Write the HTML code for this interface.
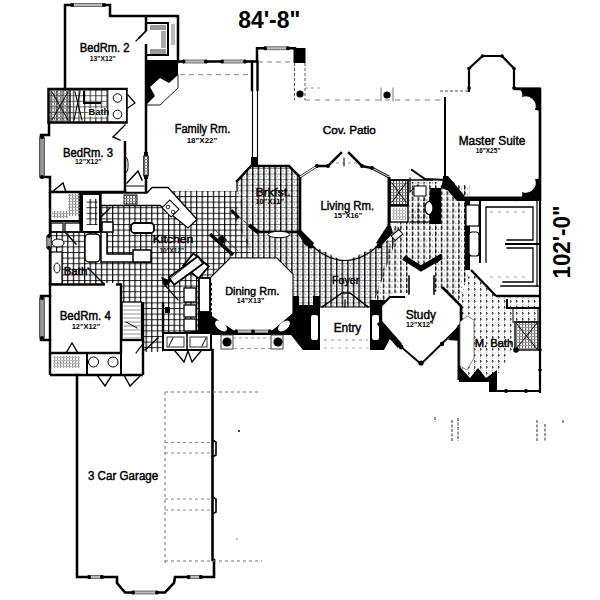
<!DOCTYPE html>
<html><head><meta charset="utf-8"><style>
html,body{margin:0;padding:0;background:#fff;}
svg{display:block;}
text{font-family:"Liberation Sans",sans-serif;fill:#000;}
</style></head><body>
<svg width="600" height="600" viewBox="0 0 600 600">
<rect width="600" height="600" fill="#fff"/>
<defs>
<pattern id="tile" width="5.6" height="5.6" patternUnits="userSpaceOnUse">
<rect x="0" y="0" width="1.2" height="5.6" fill="#111"/>
<rect x="0" y="0" width="5.6" height="1.0" fill="#333"/>
<rect x="-0.2" y="-0.2" width="1.6" height="1.5" fill="#000"/>
</pattern>
<pattern id="vl" width="5.6" height="5.6" patternUnits="userSpaceOnUse">
<rect x="0" y="0" width="1.5" height="5.6" fill="#000"/>
<rect x="0" y="2" width="1.5" height="1" fill="#fff"/>
<rect x="2.8" y="2.3" width="1.2" height="1.2" fill="#444"/>
</pattern>
<pattern id="vg" width="5.6" height="5.6" patternUnits="userSpaceOnUse">
<rect x="0" y="0" width="5.6" height="0.9" fill="#888"/>
<rect x="0" y="0" width="1.4" height="5.6" fill="#000"/>
<rect x="0" y="2.4" width="1.4" height="0.8" fill="#555"/>
<rect x="2.6" y="2.4" width="1.1" height="1.1" fill="#777"/>
</pattern>
<pattern id="hall" width="5.8" height="5.8" patternUnits="userSpaceOnUse">
<rect x="0" y="0" width="1.3" height="3.8" fill="#000"/>
<rect x="0" y="4.6" width="1.3" height="0.8" fill="#444"/>
<rect x="-0.6" y="1.2" width="2.5" height="1" fill="#333"/>
<rect x="2.9" y="2.5" width="1.1" height="1.1" fill="#666"/>
</pattern>
<pattern id="mb" width="6" height="6" patternUnits="userSpaceOnUse">
<rect x="0" y="0" width="1.1" height="2.6" fill="#333"/>
<rect x="-0.7" y="0.8" width="2.5" height="1.0" fill="#555"/>
<rect x="0" y="3.8" width="1.1" height="0.9" fill="#aaa"/>
</pattern>
<pattern id="hatch" width="3" height="3" patternUnits="userSpaceOnUse">
<rect x="0" y="0" width="1.2" height="3" fill="#555"/>
<rect x="0" y="0" width="3" height="1" fill="#888"/>
</pattern>
</defs>
<polygon points="100,193 147,193 147,191 238,191 242,205 234,211 256,258 230,258 210,278 199,278 199,312 199,333 163,333 163,352 143,352 143,302 122,302 122,283 50,285 50,232 100,232" fill="url(#tile)" stroke="none" stroke-width="0" />
<polygon points="237,191 237,180 251,166 289,166 300,177 300,240" fill="url(#vg)" stroke="none" stroke-width="0" />
<polygon points="237,191 240,205 232,211 253,258 277,258 293,274 293,310 383,310 383,300 375,300 400,228 395,225 392,238 378,245 345,262 312,245 300,240" fill="url(#vg)" stroke="none" stroke-width="0" />
<polygon points="395,225 440,185 470,185 470,270 459,300 459,325 443,288 433,293 420,280 408,293 393,293 381,303 375,300" fill="url(#hall)" stroke="none" stroke-width="0" />
<polygon points="459,300 471,270 496,296 540,296 540,312 513,312 513,350 497,375 459,375" fill="url(#mb)" stroke="none" stroke-width="0" />
<rect x="49" y="89" width="59" height="33" fill="url(#tile)" stroke="none" stroke-width="0" opacity="0.75"/>
<rect x="50" y="90" width="19" height="31" fill="url(#hatch)" stroke="none" stroke-width="0" opacity="0.8"/>
<polyline points="65,89 65,5 110,5 110,16 178,16 178,62" fill="none" stroke="#000" stroke-width="2.5" stroke-linejoin="miter" stroke-linecap="square" />
<line x1="72" y1="5" x2="104" y2="5" stroke="#fff" stroke-width="3.3" /><rect x="72" y="3.5" width="32" height="3.0" fill="#bbb" stroke="#444" stroke-width="0.7" /><circle cx="72" cy="5" r="2.0" fill="#000" stroke="none" stroke-width="0"/><circle cx="104" cy="5" r="2.0" fill="#000" stroke="none" stroke-width="0"/>
<line x1="146" y1="16" x2="146" y2="31" stroke="#000" stroke-width="2.5" />
<polyline points="146,31 139,38" fill="none" stroke="#000" stroke-width="1.6" stroke-linejoin="miter" stroke-linecap="square" stroke-linecap="butt"/>
<line x1="146" y1="44" x2="146" y2="106" stroke="#000" stroke-width="2.5" />
<polyline points="148,23 168,23 168,55 148,55" fill="none" stroke="#000" stroke-width="2" stroke-linejoin="miter" stroke-linecap="square" />
<rect x="150" y="25" width="16" height="5" fill="#999" stroke="none" stroke-width="0" />
<rect x="150" y="49" width="16" height="5" fill="#999" stroke="none" stroke-width="0" />
<rect x="161" y="31" width="5" height="17" fill="#aaa" stroke="none" stroke-width="0" />
<rect x="171" y="24" width="4" height="21" fill="#bbb" stroke="none" stroke-width="0" />
<polygon points="145,60 178,60 178,75 169,83 160,78 150,87 155,96 145,106" fill="#000" stroke="none" stroke-width="0" />
<polyline points="178,75 178,88 160,105 147,105" fill="none" stroke="#000" stroke-width="0.9" stroke-linejoin="miter" stroke-linecap="square" stroke-linecap="butt"/>
<polyline points="136,41 141,36" fill="none" stroke="#000" stroke-width="1.2" stroke-linejoin="miter" stroke-linecap="square" stroke-linecap="butt"/>
<text x="79.7" y="52.3" font-size="12.31" font-weight="normal" stroke="#000" stroke-width="0.45" textLength="49.90000000000001" lengthAdjust="spacingAndGlyphs" >BedRm. 2</text>
<text x="89.7" y="61" font-size="8.00" font-weight="bold" textLength="25.9" lengthAdjust="spacingAndGlyphs" >13&quot;X12&quot;</text>
<rect x="48.5" y="89" width="78.0" height="33.5" fill="none" stroke="#000" stroke-width="2.5" />
<polyline points="52,92 68,120" fill="none" stroke="#000" stroke-width="1" stroke-linejoin="miter" stroke-linecap="square" stroke-linecap="butt"/>
<polyline points="68,92 52,120" fill="none" stroke="#000" stroke-width="1" stroke-linejoin="miter" stroke-linecap="square" stroke-linecap="butt"/>
<polyline points="70,90 70,121" fill="none" stroke="#000" stroke-width="1.4" stroke-linejoin="miter" stroke-linecap="square" stroke-linecap="butt"/>
<polyline points="75,92 82,120" fill="none" stroke="#000" stroke-width="1.1" stroke-linejoin="miter" stroke-linecap="square" stroke-linecap="butt"/>
<polyline points="80,92 74,120" fill="none" stroke="#000" stroke-width="1.1" stroke-linejoin="miter" stroke-linecap="square" stroke-linecap="butt"/>
<polyline points="84,92 84,103 100,103" fill="none" stroke="#000" stroke-width="2" stroke-linejoin="miter" stroke-linecap="square" stroke-linecap="butt"/>
<polyline points="108,90 108,122" fill="none" stroke="#000" stroke-width="1.2" stroke-linejoin="miter" stroke-linecap="square" stroke-linecap="butt"/>
<polyline points="112,90 112,122" fill="none" stroke="#000" stroke-width="1" stroke-linejoin="miter" stroke-linecap="square" stroke-linecap="butt"/>
<rect x="108.5" y="90" width="17.5" height="31" fill="#fff" stroke="none" stroke-width="0" />
<circle cx="117.5" cy="98" r="4.3" fill="none" stroke="#000" stroke-width="1"/>
<circle cx="117.5" cy="114.5" r="4.3" fill="none" stroke="#000" stroke-width="1"/>
<rect x="88" y="108" width="19" height="9" fill="#fff" stroke="none" stroke-width="0" opacity="0.6"/>
<text x="88.4" y="115.3" font-size="9.50" font-weight="bold" textLength="20.9" lengthAdjust="spacingAndGlyphs" >Bath</text>
<polyline points="128,95 135,103 128,108" fill="none" stroke="#000" stroke-width="1.2" stroke-linejoin="miter" stroke-linecap="square" stroke-linecap="butt"/>
<polyline points="49,122 49,135 41,135 41,177 50,177 50,192 125,192" fill="none" stroke="#000" stroke-width="2.5" stroke-linejoin="miter" stroke-linecap="square" />
<line x1="42" y1="137" x2="42" y2="177" stroke="#fff" stroke-width="3.3" /><rect x="39.75" y="137" width="4.5" height="40" fill="#999" stroke="#222" stroke-width="0.8" /><circle cx="42" cy="137" r="2.0" fill="#000" stroke="none" stroke-width="0"/><circle cx="42" cy="177" r="2.0" fill="#000" stroke="none" stroke-width="0"/>
<line x1="125" y1="141" x2="125" y2="192" stroke="#000" stroke-width="2.5" />
<polyline points="125,125 113,137 120,140" fill="none" stroke="#000" stroke-width="1.4" stroke-linejoin="miter" stroke-linecap="square" stroke-linecap="butt"/>
<ellipse cx="126.5" cy="165" rx="1.6" ry="7" fill="none" stroke="#000" stroke-width="0.9"/>
<text x="63.0" y="157" font-size="12.31" font-weight="normal" stroke="#000" stroke-width="0.45" textLength="50.00000000000001" lengthAdjust="spacingAndGlyphs" >BedRm. 3</text>
<text x="75.0" y="163.5" font-size="8.00" font-weight="bold" textLength="26.6" lengthAdjust="spacingAndGlyphs" >12&quot;X12&quot;</text>
<polyline points="127,183 138,171 142,180" fill="none" stroke="#000" stroke-width="1.4" stroke-linejoin="miter" stroke-linecap="square" stroke-linecap="butt"/>
<polyline points="126,186 144,186" fill="none" stroke="#000" stroke-width="1" stroke-linejoin="miter" stroke-linecap="square" stroke-linecap="butt"/>
<line x1="178" y1="61.5" x2="257" y2="61.5" stroke="#000" stroke-width="2.5" />
<line x1="183.5" y1="61.5" x2="206" y2="61.5" stroke="#fff" stroke-width="3.3" /><rect x="183.5" y="60.0" width="22.5" height="3.0" fill="#bbb" stroke="#444" stroke-width="0.7" /><circle cx="183.5" cy="61.5" r="2.0" fill="#000" stroke="none" stroke-width="0"/><circle cx="206" cy="61.5" r="2.0" fill="#000" stroke="none" stroke-width="0"/>
<line x1="222" y1="61.5" x2="245" y2="61.5" stroke="#fff" stroke-width="3.3" /><rect x="222" y="60.0" width="23" height="3.0" fill="#bbb" stroke="#444" stroke-width="0.7" /><circle cx="222" cy="61.5" r="2.0" fill="#000" stroke="none" stroke-width="0"/><circle cx="245" cy="61.5" r="2.0" fill="#000" stroke="none" stroke-width="0"/>
<line x1="146" y1="106" x2="146" y2="152" stroke="#000" stroke-width="2.5" />
<rect x="144" y="152" width="4" height="4" fill="#000" stroke="none" stroke-width="0" />
<rect x="143.5" y="156" width="5.0" height="20" fill="url(#hatch)" stroke="#333" stroke-width="0.9" />
<line x1="146" y1="175" x2="146" y2="193" stroke="#000" stroke-width="2.5" />
<rect x="144" y="175" width="4" height="4" fill="#000" stroke="none" stroke-width="0" />
<polyline points="252,61.5 252,90" fill="none" stroke="#000" stroke-width="2.4" stroke-linejoin="miter" stroke-linecap="square" />
<polyline points="257.5,61.5 257.5,90" fill="none" stroke="#000" stroke-width="2.4" stroke-linejoin="miter" stroke-linecap="square" />
<polyline points="252.5,90 252.5,158" fill="none" stroke="#000" stroke-width="1.1" stroke-linejoin="miter" stroke-linecap="square" stroke-linecap="butt"/>
<polyline points="257.5,90 257.5,158" fill="none" stroke="#000" stroke-width="1.1" stroke-linejoin="miter" stroke-linecap="square" stroke-linecap="butt"/>
<rect x="251" y="157" width="7" height="9" fill="#000" stroke="none" stroke-width="0" />
<line x1="180" y1="74.7" x2="250" y2="74.7" stroke="#777" stroke-width="0.9" stroke-dasharray="5 4"/>
<text x="174.7" y="133" font-size="12.84" font-weight="normal" stroke="#000" stroke-width="0.45" textLength="55.6" lengthAdjust="spacingAndGlyphs" >Family Rm.</text>
<text x="186.7" y="143" font-size="8.00" font-weight="bold" textLength="30.6" lengthAdjust="spacingAndGlyphs" >18&quot;X22&quot;</text>
<polyline points="257,61.5 257,48.3 295,48.3" fill="none" stroke="#000" stroke-width="2.5" stroke-linejoin="miter" stroke-linecap="square" />
<line x1="265" y1="48.3" x2="288" y2="48.3" stroke="#fff" stroke-width="3.3" /><rect x="265" y="46.8" width="23" height="3.0" fill="#bbb" stroke="#444" stroke-width="0.7" /><circle cx="265" cy="48.3" r="2.0" fill="#000" stroke="none" stroke-width="0"/><circle cx="288" cy="48.3" r="2.0" fill="#000" stroke="none" stroke-width="0"/>
<rect x="293.5" y="48" width="12.0" height="15" fill="#000" stroke="none" stroke-width="0" />
<line x1="294.5" y1="63" x2="294.5" y2="100" stroke="#555" stroke-width="1" stroke-dasharray="3 2"/>
<line x1="305" y1="63" x2="305" y2="100" stroke="#555" stroke-width="1" stroke-dasharray="3 2"/>
<circle cx="300" cy="94" r="3.6" fill="#000" stroke="none" stroke-width="0"/>
<line x1="258" y1="62" x2="293" y2="62" stroke="#777" stroke-width="0.9" stroke-dasharray="5 4"/>
<line x1="305" y1="100" x2="440" y2="100" stroke="#777" stroke-width="0.9" stroke-dasharray="5 5"/>
<circle cx="387" cy="95" r="3.6" fill="#000" stroke="none" stroke-width="0"/>
<polyline points="381,88 381,101" fill="none" stroke="#555" stroke-width="0.8" stroke-linejoin="miter" stroke-linecap="square" stroke-linecap="butt"/>
<polyline points="393,88 393,101" fill="none" stroke="#555" stroke-width="0.8" stroke-linejoin="miter" stroke-linecap="square" stroke-linecap="butt"/>
<line x1="305" y1="88" x2="320" y2="88" stroke="#888" stroke-width="0.8" stroke-dasharray="3 3"/>
<text x="322.7" y="134" font-size="11.77" font-weight="normal" stroke="#000" stroke-width="0.45" textLength="53.200000000000024" lengthAdjust="spacingAndGlyphs" >Cov. Patio</text>
<line x1="440" y1="91" x2="469" y2="91" stroke="#555" stroke-width="1.2" stroke-dasharray="3 2"/>
<polyline points="469,91 469,68.5 482.5,56 502,56 514,68.5 514,88.5 540,88.5 540,392" fill="none" stroke="#000" stroke-width="2.2" stroke-linejoin="miter" stroke-linecap="square" />
<circle cx="469" cy="68.5" r="1.8" fill="#000" stroke="none" stroke-width="0"/>
<circle cx="482.5" cy="56" r="1.8" fill="#000" stroke="none" stroke-width="0"/>
<circle cx="502" cy="56" r="1.8" fill="#000" stroke="none" stroke-width="0"/>
<circle cx="514" cy="68.5" r="1.8" fill="#000" stroke="none" stroke-width="0"/>
<circle cx="469" cy="88" r="1.8" fill="#000" stroke="none" stroke-width="0"/>
<circle cx="514" cy="88" r="1.8" fill="#000" stroke="none" stroke-width="0"/>
<path d="M514,88 L540.5,88 L540.5,117 A5,5 0 0 0 535,110 A10,10 0 0 0 522,97 A7,7 0 0 0 514,88 Z" fill="#000"/>
<path d="M514,201 L540.5,201 L540.5,172 A5,5 0 0 1 535,179 A10,10 0 0 1 522,192 A7,7 0 0 1 514,201 Z" fill="#000"/>
<line x1="514" y1="89" x2="540" y2="89" stroke="#000" stroke-width="2.5" />
<line x1="540" y1="89" x2="540" y2="201" stroke="#000" stroke-width="2.5" />
<line x1="445" y1="97" x2="445" y2="178" stroke="#000" stroke-width="2" />
<polygon points="443,176 448,176 464,195 464,201 457,201 443,185" fill="#000" stroke="none" stroke-width="0" />
<text x="458.7" y="144.5" font-size="12.31" font-weight="normal" stroke="#000" stroke-width="0.45" textLength="66.6" lengthAdjust="spacingAndGlyphs" >Master Suite</text>
<text x="475.7" y="152.5" font-size="7.50" font-weight="bold" textLength="24.6" lengthAdjust="spacingAndGlyphs" >16&quot;X25&quot;</text>
<polyline points="237,181 251,166 289,166 300,177 300,232" fill="none" stroke="#000" stroke-width="2.5" stroke-linejoin="miter" stroke-linecap="square" />
<polyline points="237,181 237,191" fill="none" stroke="#000" stroke-width="1.2" stroke-linejoin="miter" stroke-linecap="square" stroke-linecap="butt"/>
<line x1="257" y1="232" x2="300" y2="232" stroke="#000" stroke-width="2.5" />
<line x1="249" y1="225" x2="259" y2="233" stroke="#000" stroke-width="4" />
<line x1="232" y1="211" x2="249" y2="225" stroke="#333" stroke-width="1" stroke-dasharray="3 2"/>
<ellipse cx="279" cy="234.5" rx="11" ry="3.2" fill="#fff" stroke="#000" stroke-width="1"/>
<text x="255.39999999999998" y="195.5" font-size="11.24" font-weight="normal" stroke="#000" stroke-width="0.45" textLength="35.200000000000024" lengthAdjust="spacingAndGlyphs" >Brkfst.</text>
<text x="255.39999999999998" y="203.5" font-size="8.00" font-weight="bold" textLength="28.6" lengthAdjust="spacingAndGlyphs" >10&quot;X11&quot;</text>
<polyline points="317,166 328,166 341,153" fill="none" stroke="#000" stroke-width="2.5" stroke-linejoin="miter" stroke-linecap="square" />
<polyline points="349,153 362,166 372,168" fill="none" stroke="#000" stroke-width="2.5" stroke-linejoin="miter" stroke-linecap="square" />
<line x1="372" y1="168" x2="389" y2="177" stroke="#000" stroke-width="2.6" />
<line x1="372" y1="168" x2="389" y2="177" stroke="#bbb" stroke-width="1.2" />
<line x1="389" y1="177" x2="389" y2="232" stroke="#000" stroke-width="2.5" />
<line x1="300" y1="177" x2="317" y2="166" stroke="#000" stroke-width="2.5" />
<line x1="300" y1="177" x2="317" y2="166" stroke="#fff" stroke-width="1.2" />
<circle cx="317" cy="166" r="2" fill="#000" stroke="none" stroke-width="0"/>
<circle cx="328" cy="166" r="2" fill="#000" stroke="none" stroke-width="0"/>
<circle cx="362" cy="166" r="2" fill="#000" stroke="none" stroke-width="0"/>
<circle cx="372" cy="168" r="2" fill="#000" stroke="none" stroke-width="0"/>
<line x1="330" y1="163" x2="360" y2="163" stroke="#888" stroke-width="0.8" stroke-dasharray="3 3"/>
<polyline points="344,158 344,166" fill="none" stroke="#000" stroke-width="1" stroke-linejoin="miter" stroke-linecap="square" stroke-linecap="butt"/>
<line x1="300" y1="177" x2="300" y2="232" stroke="#000" stroke-width="2.2" />
<path d="M312,246 Q345,275 378,246" fill="none" stroke="#000" stroke-width="1.2"/>
<polygon points="296,231 301,230 314,243 311,248 305,245" fill="#000" stroke="none" stroke-width="0" />
<circle cx="311" cy="246" r="2.5" fill="#000" stroke="none" stroke-width="0"/>
<circle cx="379" cy="246" r="2.5" fill="#000" stroke="none" stroke-width="0"/>
<text x="320.5" y="210.1" font-size="12.84" font-weight="normal" stroke="#000" stroke-width="0.45" textLength="53.69999999999997" lengthAdjust="spacingAndGlyphs" >Living Rm.</text>
<text x="333.7" y="218.4" font-size="8.00" font-weight="bold" textLength="28.6" lengthAdjust="spacingAndGlyphs" >15&quot;X16&quot;</text>
<rect x="390" y="180" width="18" height="25" fill="url(#hatch)" stroke="#000" stroke-width="1.8" />
<polyline points="392,183 406,202" fill="none" stroke="#000" stroke-width="1" stroke-linejoin="miter" stroke-linecap="square" stroke-linecap="butt"/>
<polyline points="406,183 392,202" fill="none" stroke="#000" stroke-width="1" stroke-linejoin="miter" stroke-linecap="square" stroke-linecap="butt"/>
<rect x="390" y="206" width="18" height="16" fill="#fff" stroke="#000" stroke-width="1.4" />
<rect x="392" y="208" width="14" height="12" fill="url(#hatch)" stroke="none" stroke-width="0" opacity="0.5"/>
<line x1="389" y1="177" x2="389" y2="226" stroke="#000" stroke-width="2.6" />
<polygon points="387,226 391,226 393,233 381,246 376,243" fill="#000" stroke="none" stroke-width="0" />
<rect x="392" y="232" width="10" height="6" fill="#fff" stroke="#000" stroke-width="1" transform="rotate(-40 397 235)"/>
<polyline points="410,178 410,192 418,185" fill="none" stroke="#000" stroke-width="1.2" stroke-linejoin="miter" stroke-linecap="square" stroke-linecap="butt"/>
<line x1="408" y1="180" x2="433" y2="180" stroke="#000" stroke-width="1.5" />
<rect x="408" y="182" width="30" height="42" fill="url(#hall)" stroke="none" stroke-width="0" />
<polyline points="412,170 425,179 445,180" fill="none" stroke="#000" stroke-width="2" stroke-linejoin="miter" stroke-linecap="square" stroke-linecap="butt"/>
<polygon points="444,176 455,183 447,190 441,188" fill="#000" stroke="none" stroke-width="0" />
<polygon points="430,188 441,188 441,224 430,224" fill="#000" stroke="none" stroke-width="0" />
<ellipse cx="429" cy="208" rx="4" ry="6.5" fill="#fff" stroke="#000" stroke-width="1.2"/>
<rect x="414" y="186" width="12" height="10" fill="#fff" stroke="#000" stroke-width="1" />
<polyline points="410,222 433,222" fill="none" stroke="#000" stroke-width="1.2" stroke-linejoin="miter" stroke-linecap="square" stroke-linecap="butt"/>
<polygon points="210,278 230,258 277,258 293,274 293,316 271,332 235,332 210,316" fill="#fff" stroke="#000" stroke-width="1.1" />
<rect x="209" y="283" width="3" height="2.5" fill="#000" stroke="none" stroke-width="0" />
<rect x="209" y="288" width="3" height="2.5" fill="#000" stroke="none" stroke-width="0" />
<rect x="209" y="293" width="3" height="2.5" fill="#000" stroke="none" stroke-width="0" />
<rect x="209" y="298" width="3" height="2.5" fill="#000" stroke="none" stroke-width="0" />
<rect x="209" y="303" width="3" height="2.5" fill="#000" stroke="none" stroke-width="0" />
<rect x="209" y="308" width="3" height="2.5" fill="#000" stroke="none" stroke-width="0" />
<rect x="209" y="313" width="3" height="2.5" fill="#000" stroke="none" stroke-width="0" />
<rect x="199" y="278" width="11" height="34" fill="#fff" stroke="#000" stroke-width="1.8" />
<polygon points="198,312 212,312 212,316 235,331.5 237,335 190,335 190,330 198,330" fill="#000" stroke="none" stroke-width="0" />
<polygon points="293,313 293,296 299,296 299,305 313,305 313,296 320,296 320,350 303,350 291,335 270,335 271,331.5" fill="#000" stroke="none" stroke-width="0" />
<ellipse cx="221" cy="326" rx="7" ry="4" transform="rotate(40 221 326)" fill="#fff"/>
<ellipse cx="284" cy="326" rx="7" ry="4" transform="rotate(-40 284 326)" fill="#fff"/>
<line x1="236" y1="331.5" x2="270" y2="331.5" stroke="#fff" stroke-width="3.0" /><rect x="236" y="330.0" width="34" height="3.0" fill="#bbb" stroke="#444" stroke-width="0.7" /><circle cx="236" cy="331.5" r="2.0" fill="#000" stroke="none" stroke-width="0"/><circle cx="270" cy="331.5" r="2.0" fill="#000" stroke="none" stroke-width="0"/>
<circle cx="253" cy="331.5" r="2" fill="#000" stroke="none" stroke-width="0"/>
<text x="225.2" y="294.6" font-size="11.77" font-weight="normal" stroke="#000" stroke-width="0.45" textLength="54.1" lengthAdjust="spacingAndGlyphs" >Dining Rm.</text>
<text x="236.7" y="303" font-size="8.00" font-weight="bold" textLength="27.6" lengthAdjust="spacingAndGlyphs" >14&quot;X13&quot;</text>
<line x1="212" y1="334" x2="295" y2="334" stroke="#000" stroke-width="2.2" />
<rect x="221" y="335" width="12" height="14" fill="none" stroke="#444" stroke-width="1" />
<rect x="271" y="335" width="12" height="14" fill="none" stroke="#444" stroke-width="1" />
<circle cx="227" cy="342" r="4.6" fill="#000" stroke="none" stroke-width="0"/>
<circle cx="278" cy="342" r="4.6" fill="#000" stroke="none" stroke-width="0"/>
<line x1="233" y1="338" x2="271" y2="338" stroke="#888" stroke-width="0.8" stroke-dasharray="3 3"/>
<line x1="233" y1="348.5" x2="271" y2="348.5" stroke="#888" stroke-width="0.8" stroke-dasharray="4 3"/>
<text x="332.09999999999997" y="284" font-size="11.77" font-weight="normal" stroke="#000" stroke-width="0.45" textLength="27.200000000000024" lengthAdjust="spacingAndGlyphs" >Foyer</text>
<rect x="311" y="315" width="7" height="25" fill="#fff" stroke="none" stroke-width="0" rx="2"/>
<polygon points="370,300 392,300 392,335 384,350 370,350" fill="#000" stroke="none" stroke-width="0" />
<rect x="372" y="315" width="7" height="25" fill="#fff" stroke="none" stroke-width="0" rx="2"/>
<rect x="320" y="307" width="50" height="43" fill="#fff" stroke="none" stroke-width="0" />
<polyline points="322,307 342,293 350,293 368,307" fill="none" stroke="#000" stroke-width="1.5" stroke-linejoin="miter" stroke-linecap="square" stroke-linecap="butt"/>
<polyline points="320,307 370,307" fill="none" stroke="#000" stroke-width="1" stroke-linejoin="miter" stroke-linecap="square" stroke-linecap="butt"/>
<polyline points="345,300 345,307" fill="none" stroke="#000" stroke-width="1.2" stroke-linejoin="miter" stroke-linecap="square" stroke-linecap="butt"/>
<line x1="324" y1="340" x2="368" y2="340" stroke="#888" stroke-width="0.9" stroke-dasharray="3 4"/>
<line x1="324" y1="348" x2="368" y2="348" stroke="#aaa" stroke-width="0.9" stroke-dasharray="3 4"/>
<text x="333.7" y="332" font-size="12.84" font-weight="normal" stroke="#000" stroke-width="0.45" textLength="27.6" lengthAdjust="spacingAndGlyphs" >Entry</text>
<polygon points="381,305 392,296 409,296 409,261 421,269 434,260 434,293 443,288 461,306 461,326 421,364 381,325" fill="#fff" stroke="none" stroke-width="0" />
<polyline points="380,307 390,297 404,297" fill="none" stroke="#000" stroke-width="2.2" stroke-linejoin="miter" stroke-linecap="square" />
<line x1="381" y1="305" x2="381" y2="326" stroke="#000" stroke-width="2.4" />
<polyline points="406,259 421,268.5 439,258" fill="none" stroke="#000" stroke-width="5.5" stroke-linejoin="miter" stroke-linecap="square" stroke-linecap="butt"/>
<polyline points="437,262 441,255" fill="none" stroke="#000" stroke-width="2" stroke-linejoin="miter" stroke-linecap="square" stroke-linecap="butt"/>
<polyline points="409,276 409,294" fill="none" stroke="#000" stroke-width="1.6" stroke-linejoin="miter" stroke-linecap="square" stroke-linecap="butt"/>
<polyline points="434,276 434,294" fill="none" stroke="#000" stroke-width="1.6" stroke-linejoin="miter" stroke-linecap="square" stroke-linecap="butt"/>
<polyline points="443,288 461,306 461,322" fill="none" stroke="#000" stroke-width="2.6" stroke-linejoin="miter" stroke-linecap="square" />
<line x1="379" y1="322" x2="400" y2="346" stroke="#000" stroke-width="6" />
<line x1="399" y1="345" x2="421" y2="364" stroke="#000" stroke-width="1.8" />
<line x1="421" y1="364" x2="458" y2="328" stroke="#000" stroke-width="1.8" />
<circle cx="401" cy="347" r="2.4" fill="#000" stroke="none" stroke-width="0"/>
<circle cx="421" cy="363" r="2.6" fill="#000" stroke="none" stroke-width="0"/>
<circle cx="442" cy="344" r="2.2" fill="#000" stroke="none" stroke-width="0"/>
<polygon points="462,320 462,341 448,340" fill="#000" stroke="none" stroke-width="0" />
<text x="405.7" y="319.4" font-size="12.31" font-weight="normal" stroke="#000" stroke-width="0.45" textLength="30.200000000000024" lengthAdjust="spacingAndGlyphs" >Study</text>
<text x="406.09999999999997" y="326.5" font-size="8.00" font-weight="bold" textLength="27.200000000000024" lengthAdjust="spacingAndGlyphs" >12&quot;X12&quot;</text>
<rect x="460" y="196.5" width="80" height="4.5" fill="#000" stroke="none" stroke-width="0" />
<rect x="465" y="200" width="5" height="70" fill="#000" stroke="none" stroke-width="0" />
<rect x="466" y="205" width="13" height="21" fill="#fff" stroke="#000" stroke-width="1.2" />
<rect x="469" y="232" width="10" height="24" fill="#fff" stroke="#000" stroke-width="1.2" rx="3"/>
<polyline points="480,262 480,201" fill="none" stroke="#000" stroke-width="2" stroke-linejoin="miter" stroke-linecap="square" />
<polyline points="486,262 486,207 533,207 533,240 507,240" fill="none" stroke="#000" stroke-width="1.3" stroke-linejoin="miter" stroke-linecap="square" />
<polyline points="507,248 533,248 533,282 503,282" fill="none" stroke="#000" stroke-width="1.3" stroke-linejoin="miter" stroke-linecap="square" />
<line x1="505" y1="244" x2="540" y2="244" stroke="#000" stroke-width="1.8" />
<line x1="490" y1="212" x2="530" y2="212" stroke="#888" stroke-width="0.8" stroke-dasharray="3 5"/>
<line x1="490" y1="277" x2="530" y2="277" stroke="#888" stroke-width="0.8" stroke-dasharray="3 5"/>
<line x1="471" y1="270" x2="496" y2="296" stroke="#000" stroke-width="2.4" />
<line x1="496" y1="296" x2="540" y2="296" stroke="#000" stroke-width="2.4" />
<polyline points="501,286 538,286" fill="none" stroke="#000" stroke-width="1.5" stroke-linejoin="miter" stroke-linecap="square" stroke-linecap="butt"/>
<polyline points="537,201 537,286" fill="none" stroke="#000" stroke-width="1.2" stroke-linejoin="miter" stroke-linecap="square" stroke-linecap="butt"/>
<polyline points="507,300 507,308 540,308" fill="none" stroke="#000" stroke-width="2" stroke-linejoin="miter" stroke-linecap="square" stroke-linecap="butt"/>
<rect x="513" y="308" width="25" height="14" fill="url(#mb)" stroke="#000" stroke-width="1" />
<rect x="515" y="322" width="23" height="28" fill="url(#hatch)" stroke="#000" stroke-width="1.6" opacity="0.85"/>
<polyline points="516,323 537,349" fill="none" stroke="#000" stroke-width="1" stroke-linejoin="miter" stroke-linecap="square" stroke-linecap="butt"/>
<polyline points="537,323 516,349" fill="none" stroke="#000" stroke-width="1" stroke-linejoin="miter" stroke-linecap="square" stroke-linecap="butt"/>
<circle cx="516" cy="350" r="2.8" fill="#000" stroke="none" stroke-width="0"/>
<line x1="459" y1="325" x2="459" y2="380" stroke="#000" stroke-width="3" />
<polygon points="459,366 470,378 478,368 486,378 497,370 497,392 489,392 489,382 459,382" fill="#000" stroke="none" stroke-width="0" />
<polygon points="460,322 467,316 474,320 474,358 467,370 460,366" fill="#fff" stroke="#666" stroke-width="0.8" />
<line x1="497" y1="391" x2="540" y2="391" stroke="#000" stroke-width="1.8" />
<circle cx="506" cy="391" r="2" fill="#000" stroke="none" stroke-width="0"/>
<circle cx="526" cy="391" r="2" fill="#000" stroke="none" stroke-width="0"/>
<circle cx="540" cy="370" r="1.8" fill="#000" stroke="none" stroke-width="0"/>
<circle cx="540" cy="350" r="1.8" fill="#000" stroke="none" stroke-width="0"/>
<text x="474.7" y="347" font-size="11.24" font-weight="normal" stroke="#000" stroke-width="0.45" textLength="38.6" lengthAdjust="spacingAndGlyphs" >M. Bath</text>
<line x1="80" y1="193" x2="147" y2="193" stroke="#000" stroke-width="2.6" />
<polygon points="101,193 147,193 152,187.5 168,187.5 197,219.5 188,228 160,205.5 101,205.5" fill="#fff" stroke="#000" stroke-width="1.3" />
<rect x="124" y="195" width="13" height="9" fill="url(#hatch)" stroke="#000" stroke-width="0.9" />
<rect x="164" y="203" width="13" height="11" fill="#fff" stroke="#000" stroke-width="1.1" transform="rotate(45 170.5 208.5)"/>
<circle cx="168" cy="207" r="1.8" fill="none" stroke="#000" stroke-width="0.8"/>
<circle cx="173" cy="212" r="1.8" fill="none" stroke="#000" stroke-width="0.8"/>
<rect x="131" y="223" width="23" height="10" fill="#fff" stroke="#000" stroke-width="1.8" rx="3.5"/>
<polygon points="101,232 107,232 107,254 151,254 151,262 101,262" fill="#fff" stroke="#000" stroke-width="1.5" />
<rect x="102" y="222" width="11" height="10" fill="#fff" stroke="#000" stroke-width="1.5" />
<rect x="133" y="250" width="18" height="12" fill="#fff" stroke="#000" stroke-width="1.5" />
<line x1="100" y1="193" x2="100" y2="207" stroke="#000" stroke-width="2.2" />
<polyline points="100,218 110,208" fill="none" stroke="#000" stroke-width="1.4" stroke-linejoin="miter" stroke-linecap="square" stroke-linecap="butt"/>
<rect x="82" y="194" width="18" height="38" fill="#fff" stroke="#000" stroke-width="2" />
<rect x="86.5" y="199" width="11.0" height="26" fill="url(#tile)" stroke="none" stroke-width="0" />
<line x1="80" y1="192" x2="80" y2="232" stroke="#000" stroke-width="2.6" />
<polyline points="52,192 63,183 66,192" fill="none" stroke="#000" stroke-width="1.4" stroke-linejoin="miter" stroke-linecap="square" stroke-linecap="butt"/>
<rect x="68" y="194" width="12" height="22" fill="url(#hatch)" stroke="none" stroke-width="0" opacity="0.7"/>
<rect x="52" y="211" width="16" height="7" fill="url(#hatch)" stroke="none" stroke-width="0" opacity="0.7"/>
<line x1="50" y1="221" x2="80" y2="221" stroke="#000" stroke-width="2" />
<rect x="51" y="223" width="12" height="9" fill="#fff" stroke="#000" stroke-width="1.3" />
<rect x="65" y="223" width="15" height="9" fill="#fff" stroke="#000" stroke-width="1.3" />
<line x1="50" y1="232" x2="100" y2="232" stroke="#000" stroke-width="1.6" />
<polyline points="65,232 76,244" fill="none" stroke="#000" stroke-width="1.4" stroke-linejoin="miter" stroke-linecap="square" stroke-linecap="butt"/>
<line x1="50" y1="192" x2="50" y2="285" stroke="#000" stroke-width="2.5" />
<line x1="49" y1="236" x2="49" y2="248" stroke="#fff" stroke-width="3.3" /><rect x="46.75" y="236" width="4.5" height="12" fill="#999" stroke="#222" stroke-width="0.8" /><circle cx="49" cy="236" r="2.0" fill="#000" stroke="none" stroke-width="0"/><circle cx="49" cy="248" r="2.0" fill="#000" stroke="none" stroke-width="0"/>
<ellipse cx="58" cy="243" rx="6" ry="4" fill="#fff" stroke="#000" stroke-width="1"/>
<rect x="85" y="234" width="15" height="28" fill="#fff" stroke="#000" stroke-width="1.4" rx="4"/>
<rect x="51" y="252" width="11" height="32" fill="#fff" stroke="#000" stroke-width="1.2" />
<ellipse cx="57" cy="268" rx="3" ry="5" fill="none" stroke="#000" stroke-width="0.9"/>
<text x="63.7" y="275" font-size="10.70" font-weight="normal" stroke="#000" stroke-width="0.45" textLength="23.6" lengthAdjust="spacingAndGlyphs" >Bath</text>
<polyline points="88,268 104,284" fill="none" stroke="#000" stroke-width="1.4" stroke-linejoin="miter" stroke-linecap="square" stroke-linecap="butt"/>
<polyline points="107,285 110,294 120,284" fill="none" stroke="#000" stroke-width="1.4" stroke-linejoin="miter" stroke-linecap="square" stroke-linecap="butt"/>
<text x="152.7" y="242.7" font-size="11.24" font-weight="normal" stroke="#000" stroke-width="0.45" textLength="40.6" lengthAdjust="spacingAndGlyphs" >Kitchen</text>
<text x="159.39999999999998" y="252.5" font-size="8.00" font-weight="bold" textLength="24.6" lengthAdjust="spacingAndGlyphs" >10&quot;X12&quot;</text>
<line x1="210" y1="234" x2="233" y2="255" stroke="#000" stroke-width="3.4" />
<polyline points="215,230 238,251" fill="none" stroke="#333" stroke-width="0.9" stroke-linejoin="miter" stroke-linecap="square" stroke-linecap="butt"/>
<rect x="219" y="236" width="7" height="6" fill="#000" stroke="none" stroke-width="0" transform="rotate(42 222 239)"/>
<line x1="231" y1="210" x2="239" y2="218" stroke="#000" stroke-width="3" />
<rect x="186" y="258" width="20" height="16" fill="#fff" stroke="#000" stroke-width="1.8" transform="rotate(40 196 266)"/>
<polyline points="190,262 196,270" fill="none" stroke="#000" stroke-width="1" stroke-linejoin="miter" stroke-linecap="square" stroke-linecap="butt"/>
<rect x="168" y="266" width="36" height="9" fill="#fff" stroke="#000" stroke-width="1.8" transform="rotate(-36 186 270.5)"/>
<polygon points="161,277 172,281 165,287" fill="#000" stroke="none" stroke-width="0" />
<polyline points="165,283 196,258" fill="none" stroke="#000" stroke-width="0.8" stroke-linejoin="miter" stroke-linecap="square" stroke-linecap="butt"/>
<line x1="163" y1="302" x2="163" y2="333" stroke="#000" stroke-width="2.4" />
<line x1="143" y1="302" x2="143" y2="375" stroke="#000" stroke-width="2.4" />
<rect x="184" y="288" width="12" height="14" fill="#fff" stroke="#000" stroke-width="1.3" />
<rect x="184" y="305" width="12" height="12" fill="#fff" stroke="#000" stroke-width="1.3" />
<rect x="184" y="319" width="12" height="12" fill="#fff" stroke="#000" stroke-width="1.3" />
<polyline points="163,283 178,300" fill="none" stroke="#000" stroke-width="1.2" stroke-linejoin="miter" stroke-linecap="square" stroke-linecap="butt"/>
<rect x="165" y="307" width="5" height="6" fill="#000" stroke="none" stroke-width="0" />
<rect x="122" y="302" width="19.5" height="38.5" fill="#fff" stroke="#000" stroke-width="1.3" />
<polyline points="124,306 140,306" fill="none" stroke="#666" stroke-width="0.7" stroke-linejoin="miter" stroke-linecap="square" stroke-linecap="butt"/>
<polyline points="124,310 140,310" fill="none" stroke="#666" stroke-width="0.7" stroke-linejoin="miter" stroke-linecap="square" stroke-linecap="butt"/>
<polyline points="124,314 140,314" fill="none" stroke="#666" stroke-width="0.7" stroke-linejoin="miter" stroke-linecap="square" stroke-linecap="butt"/>
<polyline points="124,318 140,318" fill="none" stroke="#666" stroke-width="0.7" stroke-linejoin="miter" stroke-linecap="square" stroke-linecap="butt"/>
<polyline points="124,322 140,322" fill="none" stroke="#666" stroke-width="0.7" stroke-linejoin="miter" stroke-linecap="square" stroke-linecap="butt"/>
<polyline points="124,326 140,326" fill="none" stroke="#666" stroke-width="0.7" stroke-linejoin="miter" stroke-linecap="square" stroke-linecap="butt"/>
<polyline points="124,330 140,330" fill="none" stroke="#666" stroke-width="0.7" stroke-linejoin="miter" stroke-linecap="square" stroke-linecap="butt"/>
<polyline points="124,334 140,334" fill="none" stroke="#666" stroke-width="0.7" stroke-linejoin="miter" stroke-linecap="square" stroke-linecap="butt"/>
<polyline points="124,338 140,338" fill="none" stroke="#666" stroke-width="0.7" stroke-linejoin="miter" stroke-linecap="square" stroke-linecap="butt"/>
<polyline points="126,322 137,328" fill="none" stroke="#000" stroke-width="1" stroke-linejoin="miter" stroke-linecap="square" stroke-linecap="butt"/>
<rect x="50" y="284.5" width="71" height="68.5" fill="#fff" stroke="#000" stroke-width="2.4" />
<polyline points="50,296 41,296 41,340 50,340" fill="none" stroke="#000" stroke-width="2.5" stroke-linejoin="miter" stroke-linecap="square" />
<line x1="42" y1="298" x2="42" y2="338" stroke="#fff" stroke-width="3.3" /><rect x="39.75" y="298" width="4.5" height="40" fill="#999" stroke="#222" stroke-width="0.8" /><circle cx="42" cy="298" r="2.0" fill="#000" stroke="none" stroke-width="0"/><circle cx="42" cy="338" r="2.0" fill="#000" stroke="none" stroke-width="0"/>
<line x1="105" y1="284.5" x2="116" y2="284.5" stroke="#fff" stroke-width="3" />
<line x1="50" y1="353" x2="50" y2="375" stroke="#000" stroke-width="2.5" />
<line x1="50" y1="375" x2="143" y2="375" stroke="#000" stroke-width="2.5" />
<line x1="87" y1="353" x2="87" y2="375" stroke="#000" stroke-width="2" />
<line x1="121" y1="340" x2="143" y2="340" stroke="#000" stroke-width="2" />
<line x1="121" y1="353" x2="121" y2="375" stroke="#000" stroke-width="2" />
<circle cx="93.5" cy="362" r="5" fill="none" stroke="#000" stroke-width="1"/>
<circle cx="113" cy="362" r="5" fill="none" stroke="#000" stroke-width="1"/>
<polyline points="66,353 72,343 78,353" fill="none" stroke="#000" stroke-width="1.4" stroke-linejoin="miter" stroke-linecap="square" stroke-linecap="butt"/>
<rect x="53" y="356" width="27" height="12" fill="url(#hatch)" stroke="none" stroke-width="0" opacity="0.6"/>
<polyline points="97,375 105,386 112,375" fill="none" stroke="#000" stroke-width="1.4" stroke-linejoin="miter" stroke-linecap="square" stroke-linecap="butt"/>
<polyline points="124,375 130,386 140,376" fill="none" stroke="#000" stroke-width="1.4" stroke-linejoin="miter" stroke-linecap="square" stroke-linecap="butt"/>
<polyline points="136,353 142,345" fill="none" stroke="#000" stroke-width="1.2" stroke-linejoin="miter" stroke-linecap="square" stroke-linecap="butt"/>
<polyline points="145,350 158,338" fill="none" stroke="#000" stroke-width="1.3" stroke-linejoin="miter" stroke-linecap="square" stroke-linecap="butt"/>
<text x="59.7" y="320" font-size="12.31" font-weight="normal" stroke="#000" stroke-width="0.45" textLength="51.1" lengthAdjust="spacingAndGlyphs" >BedRm. 4</text>
<text x="71.7" y="329" font-size="8.00" font-weight="bold" textLength="28.6" lengthAdjust="spacingAndGlyphs" >12&quot;X12&quot;</text>
<rect x="163" y="333" width="48" height="17" fill="#fff" stroke="#000" stroke-width="2" />
<polyline points="187,333 187,350" fill="none" stroke="#000" stroke-width="1.5" stroke-linejoin="miter" stroke-linecap="square" stroke-linecap="butt"/>
<rect x="167" y="337" width="17" height="10" fill="none" stroke="#333" stroke-width="1" />
<rect x="190" y="337" width="17" height="10" fill="none" stroke="#333" stroke-width="1" />
<polyline points="169,346 173,338" fill="none" stroke="#000" stroke-width="1" stroke-linejoin="miter" stroke-linecap="square" stroke-linecap="butt"/>
<polyline points="202,346 206,338" fill="none" stroke="#000" stroke-width="1" stroke-linejoin="miter" stroke-linecap="square" stroke-linecap="butt"/>
<polyline points="175,351 184,362 188,351 192,362 201,351" fill="none" stroke="#000" stroke-width="1.3" stroke-linejoin="miter" stroke-linecap="square" stroke-linecap="butt"/>
<polyline points="77,375 77,577 117,577 117,583 125,592.5 165,592.5 174,583 175,577 214,577 214,560 212.5,560 212.5,350" fill="none" stroke="#000" stroke-width="2.6" stroke-linejoin="miter" stroke-linecap="square" />
<line x1="89" y1="577" x2="102" y2="577" stroke="#fff" stroke-width="2.9000000000000004" /><rect x="89" y="575.5" width="13" height="3.0" fill="#bbb" stroke="#444" stroke-width="0.7" /><circle cx="89" cy="577" r="2.0" fill="#000" stroke="none" stroke-width="0"/><circle cx="102" cy="577" r="2.0" fill="#000" stroke="none" stroke-width="0"/>
<line x1="133" y1="592.5" x2="157" y2="592.5" stroke="#fff" stroke-width="2.9000000000000004" /><rect x="133" y="591.0" width="24" height="3.0" fill="#bbb" stroke="#444" stroke-width="0.7" /><circle cx="133" cy="592.5" r="2.0" fill="#000" stroke="none" stroke-width="0"/><circle cx="157" cy="592.5" r="2.0" fill="#000" stroke="none" stroke-width="0"/>
<line x1="188.5" y1="577" x2="201" y2="577" stroke="#fff" stroke-width="2.9000000000000004" /><rect x="188.5" y="575.5" width="12.5" height="3.0" fill="#bbb" stroke="#444" stroke-width="0.7" /><circle cx="188.5" cy="577" r="2.0" fill="#000" stroke="none" stroke-width="0"/><circle cx="201" cy="577" r="2.0" fill="#000" stroke="none" stroke-width="0"/>
<polyline points="212.5,440 216,442 216,455 212.5,457" fill="none" stroke="#000" stroke-width="1.6" stroke-linejoin="miter" stroke-linecap="square" stroke-linecap="butt"/>
<polyline points="212.5,497 216,499 216,512 212.5,514" fill="none" stroke="#000" stroke-width="1.6" stroke-linejoin="miter" stroke-linecap="square" stroke-linecap="butt"/>
<line x1="165" y1="392" x2="258" y2="392" stroke="#777" stroke-width="1" stroke-dasharray="3 3"/>
<line x1="165" y1="392" x2="165" y2="563" stroke="#777" stroke-width="1" stroke-dasharray="3 3"/>
<line x1="165" y1="442.5" x2="213" y2="442.5" stroke="#888" stroke-width="1" stroke-dasharray="3 3"/>
<line x1="165" y1="453" x2="213" y2="453" stroke="#888" stroke-width="1" stroke-dasharray="3 3"/>
<line x1="165" y1="499" x2="213" y2="499" stroke="#888" stroke-width="1" stroke-dasharray="3 3"/>
<line x1="165" y1="510" x2="213" y2="510" stroke="#888" stroke-width="1" stroke-dasharray="3 3"/>
<line x1="165" y1="561" x2="262" y2="561" stroke="#777" stroke-width="1" stroke-dasharray="3 3"/>
<circle cx="239" cy="431" r="1" fill="#000" stroke="none" stroke-width="0"/>
<circle cx="237" cy="539" r="0.8" fill="#777" stroke="none" stroke-width="0"/>
<text x="87.9" y="479.5" font-size="12.31" font-weight="normal" stroke="#000" stroke-width="0.45" textLength="70.39999999999999" lengthAdjust="spacingAndGlyphs" >3 Car Garage</text>
<text x="238.2" y="27.7" font-size="24.00" font-weight="bold" textLength="62.1" lengthAdjust="spacingAndGlyphs" >84'-8&quot;</text>
<text x="0" y="0" font-size="24" font-weight="bold" textLength="73" lengthAdjust="spacingAndGlyphs" transform="translate(569.5,278.5) rotate(-90)">102'-0&quot;</text>
<line x1="435" y1="417" x2="435" y2="422" stroke="#333" stroke-width="1" stroke-dasharray="3 1.5"/>
<line x1="452" y1="420" x2="452" y2="441" stroke="#333" stroke-width="1" stroke-dasharray="3 1.5"/>
<line x1="458" y1="418" x2="458" y2="441" stroke="#333" stroke-width="1" stroke-dasharray="3 1.5"/>
<line x1="537" y1="420" x2="537" y2="441" stroke="#333" stroke-width="1" stroke-dasharray="3 1.5"/>
<line x1="545" y1="424" x2="545" y2="441" stroke="#333" stroke-width="1" stroke-dasharray="3 1.5"/>
<line x1="563" y1="420" x2="563" y2="424" stroke="#333" stroke-width="1" stroke-dasharray="3 1.5"/>
</svg></body></html>
